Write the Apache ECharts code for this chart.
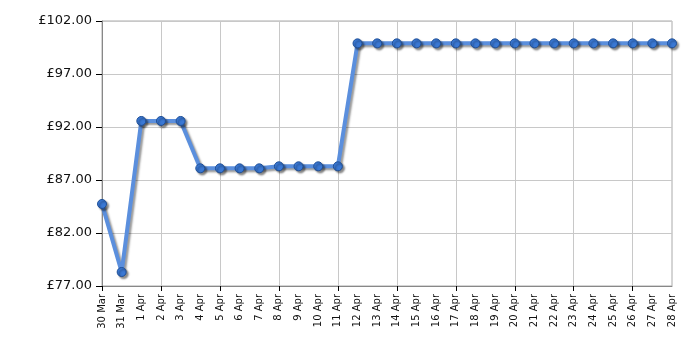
<!DOCTYPE html>
<html><head><meta charset="utf-8">
<script src="https://cdn.jsdelivr.net/npm/echarts@6/dist/echarts.min.js"></script>
<style>html,body{margin:0;padding:0;background:#fff}#c{width:700px;height:350px}</style>
</head><body><div id="c"></div>
<script>
var categories = ["30 Mar","31 Mar","1 Apr","2 Apr","3 Apr","4 Apr","5 Apr","6 Apr","7 Apr","8 Apr","9 Apr","10 Apr","11 Apr","12 Apr","13 Apr","14 Apr","15 Apr","16 Apr","17 Apr","18 Apr","19 Apr","20 Apr","21 Apr","22 Apr","23 Apr","24 Apr","25 Apr","26 Apr","27 Apr","28 Apr"];
var prices = [84.74,78.32,92.57,92.57,92.57,88.1,88.1,88.1,88.1,88.29,88.29,88.29,88.29,99.89,99.89,99.89,99.89,99.89,99.89,99.89,99.89,99.89,99.89,99.89,99.89,99.89,99.89,99.89,99.89,99.89];
var yMin = 77, yMax = 102, yStep = 5;

var chart = echarts.init(document.getElementById('c'), null, {renderer:'canvas'});
chart.setOption({
  animation:false,
  grid:{left:102,right:28,top:21,bottom:64,show:true,borderColor:'#aaa',borderWidth:1},
  xAxis:{type:'category',data:categories,boundaryGap:false,
    axisLine:{lineStyle:{color:'#888'}},
    axisTick:{show:true,length:5,lineStyle:{color:'#000'},interval:function(i){return i%3===0;}},
    axisLabel:{rotate:90,fontSize:10,fontFamily:'DejaVu Sans',color:'#111',interval:0,margin:8},
    splitLine:{show:true,lineStyle:{color:'#c8c8c8'},interval:function(i){return i%3===0;}}},
  yAxis:{type:'value',min:yMin,max:yMax,interval:yStep,
    axisLine:{show:true,lineStyle:{color:'#888'}},
    axisTick:{show:true,length:6,lineStyle:{color:'#000'}},
    axisLabel:{fontSize:13,fontFamily:'DejaVu Sans',color:'#111',margin:10,formatter:function(v){return '£'+v.toFixed(2);}},
    splitLine:{show:true,lineStyle:{color:'#c8c8c8'}}},
  series:[{type:'line',data:prices,symbol:'circle',symbolSize:9,
    lineStyle:{color:'#5b8fdd',width:4,shadowColor:'rgba(0,0,0,0.4)',shadowBlur:2,shadowOffsetX:2,shadowOffsetY:2},
    itemStyle:{color:'#3a78d4',borderColor:'#1f4f96',borderWidth:1,shadowColor:'rgba(0,0,0,0.45)',shadowBlur:2,shadowOffsetX:2,shadowOffsetY:2}}]
});
</script></body></html>
